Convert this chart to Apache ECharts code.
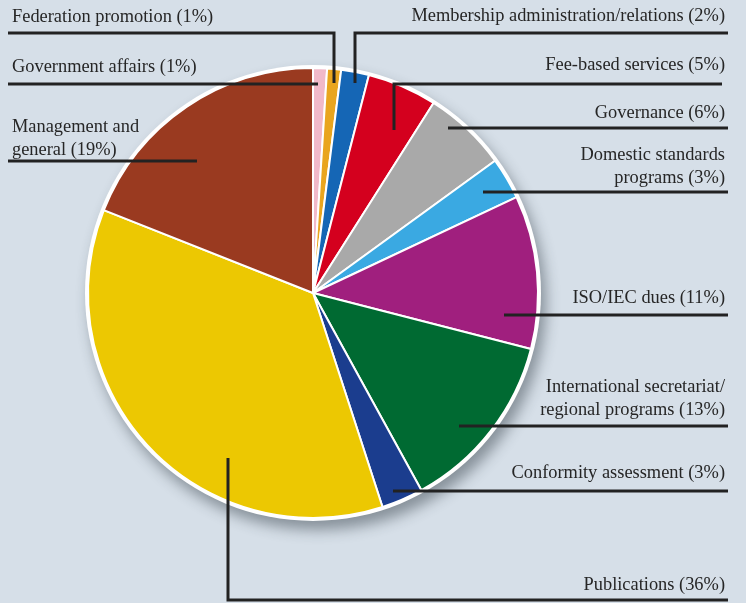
<!DOCTYPE html>
<html>
<head>
<meta charset="utf-8">
<script src="https://cdn.jsdelivr.net/npm/echarts@6/dist/echarts.min.js"></script>
<style>
html,body{margin:0;padding:0;background:#d6dfe8;}
#c{width:746px;height:603px;}
</style>
</head>
<body>
<div id="c"></div>
<script>
// ---- data ----
const categories = [
  'Government affairs',
  'Federation promotion',
  'Membership administration/relations',
  'Fee-based services',
  'Governance',
  'Domestic standards\nprograms',
  'ISO/IEC dues',
  'International secretariat/\nregional programs',
  'Conformity assessment',
  'Publications',
  'Management and\ngeneral'
];
const values = [1, 1, 2, 5, 6, 3, 11, 13, 3, 36, 19];

// ---- styles / layout (not data) ----
const colors = ['#f1b9c9', '#e9a51e', '#1566b5', '#d4001e', '#a9a9a9', '#3aa9e2',
                '#a01f7e', '#006a32', '#1b3d8e', '#ecc802', '#9a3a20'];
// label anchor (x, y-centre, align) and leader-line points
const labelPos = [
  {x: 12,  y: 67,  align: 'left',  line: [[318, 84], [8, 84]]},
  {x: 12,  y: 17,  align: 'left',  line: [[334, 83], [334, 33], [8, 33]]},
  {x: 725, y: 16,  align: 'right', line: [[355, 83], [355, 33], [728, 33]]},
  {x: 725, y: 65,  align: 'right', line: [[394, 130], [394, 84], [722, 84]]},
  {x: 725, y: 113, align: 'right', line: [[448, 128], [728, 128]]},
  {x: 725, y: 167, align: 'right', line: [[483, 192], [728, 192]]},
  {x: 725, y: 298, align: 'right', line: [[504, 315], [728, 315]]},
  {x: 725, y: 399, align: 'right', line: [[459, 426], [728, 426]]},
  {x: 725, y: 473, align: 'right', line: [[393, 491], [728, 491]]},
  {x: 725, y: 585, align: 'right', line: [[228, 458], [228, 600], [728, 600]]},
  {x: 12,  y: 139, align: 'left',  line: [[197, 161], [8, 161]]}
];

const chart = echarts.init(document.getElementById('c'), null, {renderer: 'canvas'});
const pieCenter = [313, 293];
const pieData = categories.map((c, i) => ({
  name: c,
  value: values[i],
  itemStyle: {color: colors[i]}
}));
const labelData = categories.map((c, i) => ({name: c, value: values[i]}));

const option = {
  backgroundColor: '#d6dfe8',
  animation: false,
  series: [
    {
      // white rim + drop shadow behind the pie
      type: 'pie',
      silent: true,
      center: pieCenter,
      radius: 228,
      z: 1,
      label: {show: false},
      labelLine: {show: false},
      itemStyle: {
        color: '#ffffff',
        shadowBlur: 14,
        shadowColor: 'rgba(40,50,60,0.45)',
        shadowOffsetX: 5,
        shadowOffsetY: 9
      },
      data: [{value: 1, name: 'rim'}]
    },
    {
      // coloured slices
      type: 'pie',
      center: pieCenter,
      radius: 225,
      startAngle: 90,
      clockwise: true,
      z: 2,
      itemStyle: {borderColor: '#ffffff', borderWidth: 2},
      label: {show: false},
      labelLine: {show: false},
      data: pieData
    },
    {
      // same slices, transparent, carrying labels and leader lines on top
      type: 'pie',
      silent: true,
      center: pieCenter,
      radius: 225,
      startAngle: 90,
      clockwise: true,
      avoidLabelOverlap: false,
      z: 3,
      itemStyle: {color: 'rgba(0,0,0,0)', borderWidth: 0},
      label: {
        show: true,
        position: 'outside',
        formatter: '{b} ({c}%)',
        fontFamily: '"Liberation Serif", "Times New Roman", serif',
        fontSize: 18.4,
        lineHeight: 23,
        color: '#262626'
      },
      labelLine: {
        show: true,
        lineStyle: {color: '#222222', width: 3}
      },
      labelLayout: function (params) {
        const p = labelPos[params.dataIndex];
        if (!p) return {};
        return {
          x: p.x,
          y: p.y,
          align: p.align,
          verticalAlign: 'middle',
          labelLinePoints: p.line
        };
      },
      data: labelData
    }
  ]
};
chart.setOption(option);
</script>
</body>
</html>
